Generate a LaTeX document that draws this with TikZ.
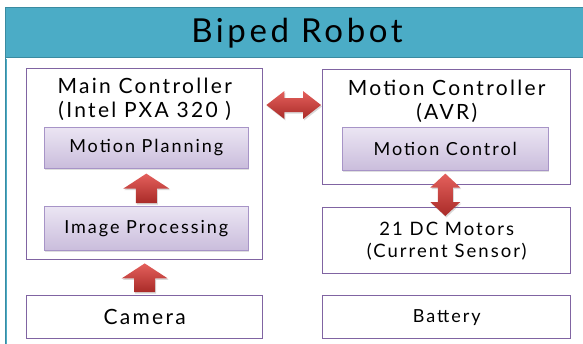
\documentclass[tikz,border=0pt]{standalone}
\usepackage{fontspec}
\setmainfont[LetterSpace=11]{Lato}
\usetikzlibrary{calc,shadows}

\definecolor{bandteal}{HTML}{4BACC6}
\definecolor{bandedge}{HTML}{3A8BA1}
\definecolor{framepurple}{HTML}{8064A2}
\definecolor{lilactop}{HTML}{EBE5F3}
\definecolor{lilacbot}{HTML}{CABDDC}
\definecolor{lilacedge}{HTML}{A794C7}
\definecolor{redtop}{HTML}{E4605C}
\definecolor{redbot}{HTML}{A92B28}

\tikzset{
  outerbox/.style={draw=framepurple, line width=1.4pt, fill=white,
    anchor=north west, inner sep=0pt, align=center,
    font=\fontsize{18.5}{22}\selectfont},
  innerbox/.style={draw=lilacedge, line width=0.6pt, top color=lilactop,
    bottom color=lilacbot, anchor=north west, inner sep=0pt,
    font=\fontsize{18}{20}\selectfont,
    drop shadow={opacity=0.25, shadow xshift=1pt, shadow yshift=-1.5pt}},
  headtext/.style={align=center, inner sep=0pt, font=\fontsize{21}{24}\selectfont},
  titletext/.style={inner sep=0pt, font=\fontsize{33}{36}\selectfont},
  redblock/.style={top color=redtop, bottom color=redbot, draw=none,
    drop shadow={opacity=0.3, shadow xshift=1pt, shadow yshift=-1.5pt}},
}

% upward block arrow: #1 = point at the shaft end, #2 = point at the tip
\newcommand{\upblockarrow}[2]{%
  \path[redblock] let \p1=(#1), \p2=(#2) in
    (\x2,\y2) -- (\x2+23pt,\y2-15pt) -- (\x2+10.5pt,\y2-15pt)
    -- (\x2+10.5pt,\y1) -- (\x2-10.5pt,\y1) -- (\x2-10.5pt,\y2-15pt)
    -- (\x2-23pt,\y2-15pt) -- cycle;}
% horizontal two-headed block arrow between #1 (left tip) and #2 (right tip)
\newcommand{\hdoubleblock}[2]{%
  \path[redblock] let \p1=(#1), \p2=(#2) in
    (\x1,\y1) -- (\x1+18pt,\y1+14pt) -- (\x1+18pt,\y1+7pt)
    -- (\x2-18pt,\y1+7pt) -- (\x2-18pt,\y1+14pt) -- (\x2,\y1)
    -- (\x2-18pt,\y1-14pt) -- (\x2-18pt,\y1-7pt) -- (\x1+18pt,\y1-7pt)
    -- (\x1+18pt,\y1-14pt) -- cycle;}
% vertical two-headed block arrow between #1 (upper tip) and #2 (lower tip)
\newcommand{\vdoubleblock}[2]{%
  \path[redblock] let \p1=(#1), \p2=(#2) in
    (\x1,\y1) -- (\x1+15pt,\y1-14pt) -- (\x1+7.5pt,\y1-14pt)
    -- (\x1+7.5pt,\y2+14pt) -- (\x1+15pt,\y2+14pt) -- (\x1,\y2)
    -- (\x1-15pt,\y2+14pt) -- (\x1-7.5pt,\y2+14pt) -- (\x1-7.5pt,\y1-14pt)
    -- (\x1-15pt,\y1-14pt) -- cycle;}

\begin{document}
\begin{tikzpicture}[x=1pt, y=-1pt]
  \useasboundingbox (0,0) rectangle (583,343);

  % title band and frame
  \fill[bandteal] (5,7) rectangle (590,58);
  \draw[bandedge, line width=1.2pt] (5.6,350) |- (590,7.6);
  \draw[bandedge, line width=1.4pt] (5,57.5) -- (590,57.5);
  \draw[bandteal, line width=1.4pt] (6.2,58.5) -- (6.2,350);
  \node[titletext] (title) at (297,33) {Biped Robot};

  % outer blocks
  \node[outerbox, minimum width=236pt, minimum height=191pt] (main) at (26,68) {};
  \node[outerbox, minimum width=236pt, minimum height=43pt,
    font=\fontsize{21}{22}\selectfont] (cam) at (26,295) {Camera};
  \node[outerbox, minimum width=248pt, minimum height=115pt] (mc) at (322,69) {};
  \node[outerbox, minimum width=248pt, minimum height=66pt] (dc) at (322,207)
    {21 DC Motors\\(Current Sensor)};
  \node[outerbox, minimum width=248pt, minimum height=43pt,
    font=\fontsize{18}{20}\selectfont] (bat) at (322,295) {Battery};

  % headings of the controller blocks
  \node[headtext] (mainlabel) at ($(main.north)+(0,31.5)$) {Main Controller\\(Intel PXA 320 )};
  \node[headtext] (mclabel) at ($(mc.north)+(0,32.5)$) {Motion Controller\\(AVR)};

  % inner function blocks
  \node[innerbox, minimum width=204pt, minimum height=41pt] (mp) at (44,127) {Motion Planning};
  \node[innerbox, minimum width=204pt, minimum height=44pt] (ip) at (44,206) {Image Processing};
  \node[innerbox, minimum width=206pt, minimum height=43pt] (mcc) at (342,127) {Motion Control};

  % data flow
  \upblockarrow{$(ip.north)+(0,-3)$}{$(mp.south)+(0,5)$}
  \upblockarrow{$(cam.north)+(0,-3)$}{$(main.south)+(0,3)$}
  \coordinate (hl) at ($(main.north east)+(3,37)$);
  \coordinate (hr) at ($(mc.north west)+(-1,36)$);
  \hdoubleblock{hl}{hr}
  \vdoubleblock{$(mcc.south)+(0,3)$}{$(dc.north)+(0,9)$}
\end{tikzpicture}
\end{document}
